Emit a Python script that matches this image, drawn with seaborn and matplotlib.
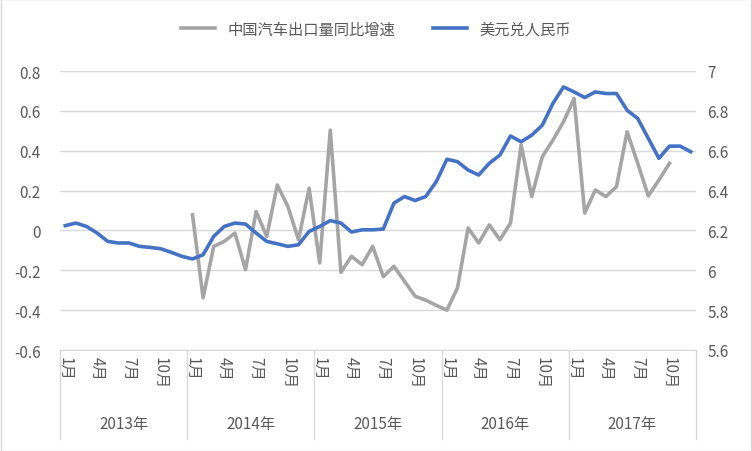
import numpy as np
import pandas as pd
import matplotlib
matplotlib.use("Agg")
import matplotlib.pyplot as plt
import seaborn as sns
from matplotlib.lines import Line2D
from matplotlib import font_manager as fm

names = {f.name for f in fm.fontManager.ttflist}
cjk = [n for n in ["Noto Sans CJK SC", "Noto Sans CJK JP", "Noto Sans CJK TC", "Noto Sans CJK KR",
                   "Noto Sans SC", "WenQuanYi Zen Hei", "Droid Sans Fallback"] if n in names]
if not cjk:
    cjk = [n for n in names if "CJK" in n or "Hei" in n]
plt.rcParams["font.family"] = "sans-serif"
plt.rcParams["font.sans-serif"] = cjk + ["DejaVu Sans"]

years = ["2013年", "2014年", "2015年", "2016年", "2017年"]
month_labels = ["1月", "4月", "7月", "10月"]
usd_cny = [6.224, 6.237, 6.22, 6.187, 6.145, 6.137, 6.137, 6.12, 6.115, 6.108, 6.090, 6.07,
           6.057, 6.078, 6.17, 6.22, 6.237, 6.232, 6.187, 6.145, 6.133, 6.12, 6.128, 6.195,
           6.22, 6.249, 6.237, 6.192, 6.203, 6.203, 6.207, 6.337, 6.37, 6.35, 6.37, 6.445,
           6.557, 6.545, 6.503, 6.478, 6.537, 6.578, 6.674, 6.645, 6.678, 6.728, 6.837, 6.92,
           6.895, 6.867, 6.895, 6.887, 6.887, 6.803, 6.762, 6.662, 6.562, 6.623, 6.623, 6.595]
export_yoy = [np.nan] * 12 + [
    0.078, -0.338, -0.08, -0.055, -0.013, -0.197, 0.095, -0.03, 0.228, 0.12, -0.047, 0.212,
    -0.163, 0.503, -0.21, -0.13, -0.172, -0.08, -0.232, -0.18, -0.255, -0.33, -0.35, -0.376,
    -0.4, -0.288, 0.012, -0.063, 0.028, -0.047, 0.037, 0.429, 0.17, 0.37, 0.453, 0.545,
    0.662, 0.087, 0.203, 0.17, 0.22, 0.495, 0.337, 0.173, 0.253, 0.337, np.nan, np.nan]

idx = np.arange(60)
df = pd.DataFrame({"i": idx, "exp": export_yoy, "fx": usd_cny})

fig = plt.figure(figsize=(7.52, 4.52), dpi=100)
ax = fig.add_axes([60/752, 101/452, 636/752, 279/452])
ax2 = ax.twinx()
grey = "#A5A5A5"; blue = "#4472C4"; txt = "#595959"

sns.lineplot(data=df, x="i", y="exp", ax=ax, color=grey, linewidth=2.6)
sns.lineplot(data=df, x="i", y="fx", ax=ax2, color=blue, linewidth=2.6)

lv = np.arange(-0.6, 0.81, 0.2)
ax.set_ylim(-0.6, 0.8)
ax2.set_ylim(5.6, 7.0)
ax.set_yticks(lv)
ax.set_yticklabels(["0" if abs(v) < 1e-9 else f"{v:.1f}" for v in lv])
rv = np.arange(5.6, 7.01, 0.2)
ax2.set_yticks(rv)
ax2.set_yticklabels([f"{v:.1f}".replace(".0", "") for v in rv])
ax.set_xlim(-0.5, 59.5)
ax.grid(axis="y", color="#D9D9D9", linewidth=1)
ax.set_axisbelow(True)
for a in (ax, ax2):
    for s in a.spines.values():
        s.set_visible(False)
    a.set_xlabel(""); a.set_ylabel("")
    a.tick_params(length=0, labelsize=11, colors=txt)
ax.tick_params(axis="y", pad=14)
ax2.tick_params(axis="y", pad=8)
ax.spines["bottom"].set_visible(True)
ax.spines["bottom"].set_color("#D9D9D9")

ticks = [y * 12 + m for y in range(5) for m in (0, 3, 6, 9)]
ax.set_xticks(ticks)
ax.set_xticklabels(month_labels * 5, rotation=-90, fontsize=11, color=txt)
ax.tick_params(axis="x", pad=4)

tr = ax.get_xaxis_transform()
for k in range(6):
    xb = k * 12 - 0.5
    ax.plot([xb, xb], [0, -0.32], transform=tr, color="#D9D9D9", lw=1, clip_on=False)
for k, yl in enumerate(years):
    ax.text(k * 12 + 5.5, -0.265, yl, transform=tr, ha="center", va="center", fontsize=11, color=txt)

handles = [Line2D([], [], color=grey, lw=2.6), Line2D([], [], color=blue, lw=2.6)]
fig.legend(handles, ["中国汽车出口量同比增速", "美元兑人民币"], loc="center", bbox_to_anchor=(0.5, 1 - 30/452),
           ncol=2, frameon=False, fontsize=11, labelcolor=txt, handlelength=2.2, columnspacing=2.5)
fig.patches.append(plt.Rectangle((0.001, 0.001), 0.998, 0.998, transform=fig.transFigure,
                                 fill=False, edgecolor="#D9D9D9", lw=1))
fig.savefig("out.png", dpi=100)
